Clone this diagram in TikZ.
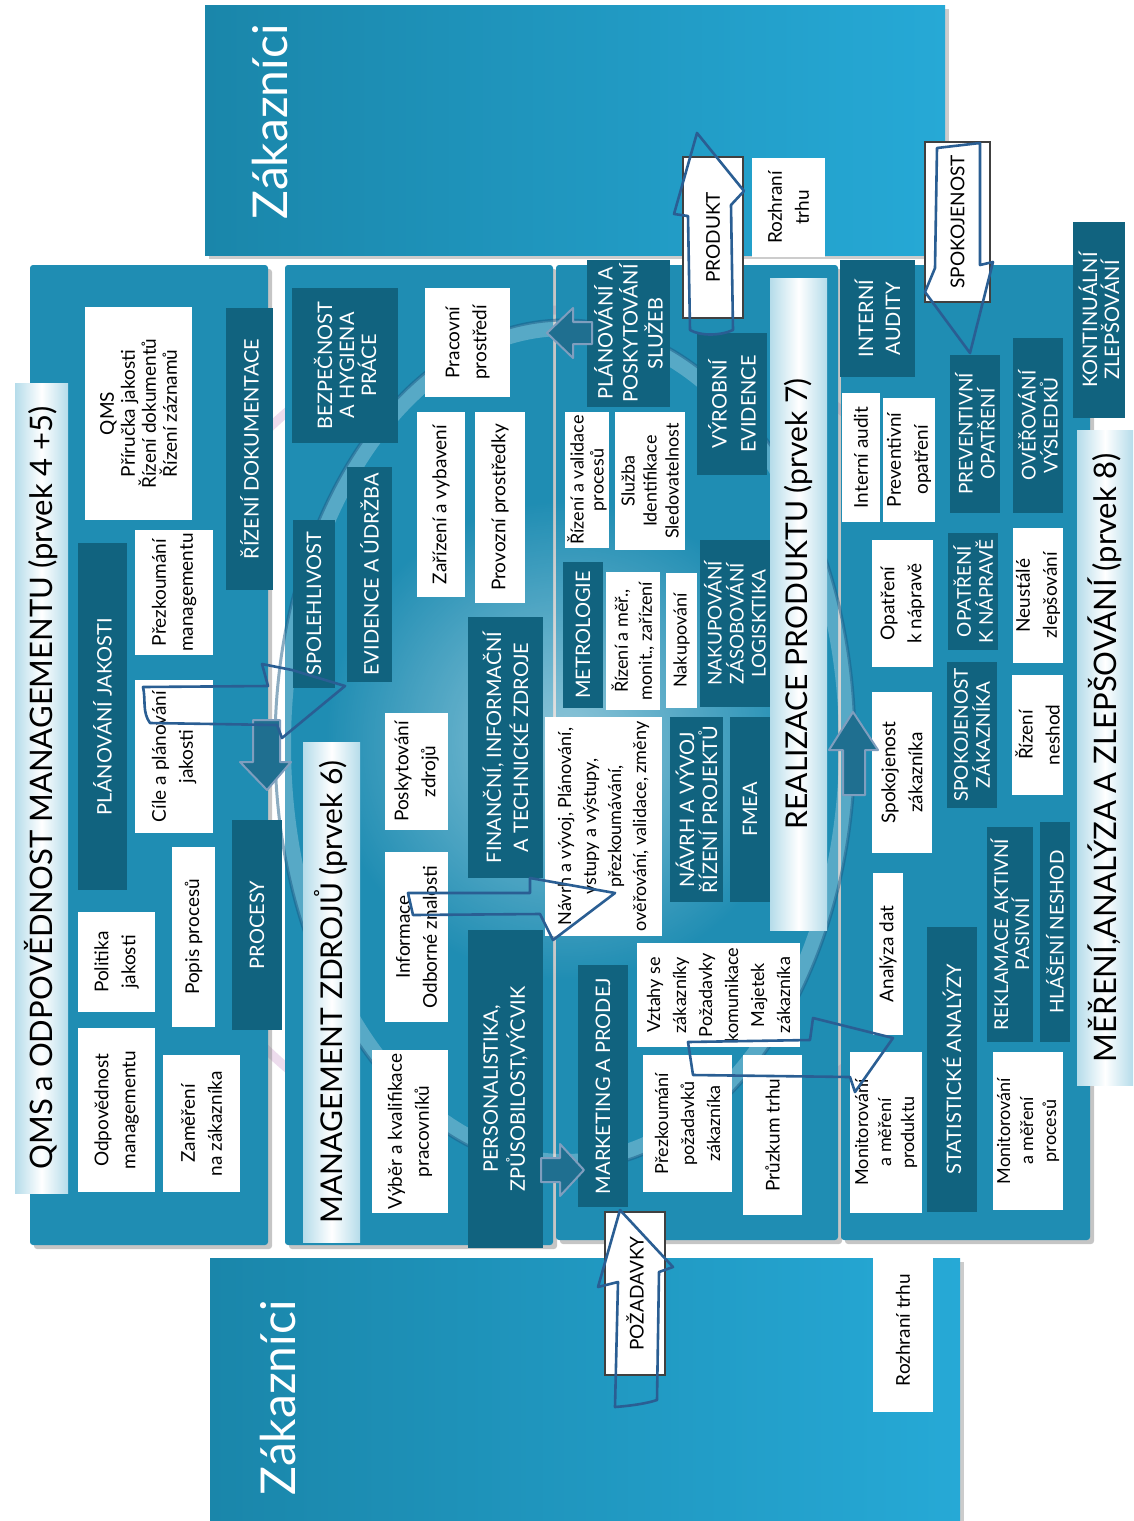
\documentclass[tikz,border=0pt]{standalone}
\usepackage{fontspec}
\setmainfont{Lato}
\usetikzlibrary{shadows,fadings}
\definecolor{pan}{HTML}{1F8DB3}
\definecolor{dk}{HTML}{11637F}
\definecolor{zak}{HTML}{1A86AA}
\definecolor{zakl}{HTML}{26A9D6}
\definecolor{handc}{HTML}{2A5E93}
\definecolor{tb}{HTML}{B5DCEA}
\definecolor{arr}{HTML}{1F6F90}
\definecolor{ringc}{HTML}{1B5A85}
\tikzfading[name=myglow, inner color=transparent!0, outer color=transparent!100]
\newcommand\bx[7]{\node[#1, minimum width={(#6-#4)*1pt}, minimum height={(#5-#3)*1pt}] (#2) at ({(#3+#5)/2},{(#4+#6)/2}) {#7};}
\begin{document}
\begin{tikzpicture}[x=1pt,y=-1pt,
  wbox/.style={fill=white, text=black, rotate=90, align=center, inner sep=1pt, font=\fontsize{19}{27}\selectfont},
  dbox/.style={fill=dk, text=white, rotate=90, align=center, inner sep=1pt, font=\fontsize{20}{23}\selectfont},
  tbar/.style={left color=tb, right color=tb, middle color=white, rotate=90, inner sep=1pt, font=\fontsize{31}{36}\selectfont},
  panel/.style={fill=pan, rounded corners=3pt, drop shadow={shadow xshift=4pt, shadow yshift=-4pt, opacity=0.45}},
  abox/.style={wbox, draw=black!75, line width=1.2pt},
  handarrow/.style={draw=handc, line width=2.6pt, line join=round},
  farrow/.style={fill=arr, draw=handc!60!white, line width=2pt, line join=round}
]
\useasboundingbox (0,0) rectangle (1133,1521);
\fill[white] (0,0) rectangle (1133,1521);
% outer lavender ring (visible in the gaps)
\draw[white!70!violet, line width=9pt, opacity=0.45] (565,740) circle (430);
% customer panels
\path[left color=zak, right color=zakl, drop shadow={shadow xshift=4pt, shadow yshift=-4pt, opacity=0.4}] (205,5) rectangle (945,255);
\path[left color=zak, right color=zakl, drop shadow={shadow xshift=4pt, shadow yshift=-4pt, opacity=0.4}] (210,1258) rectangle (960,1521);
\node[rotate=90, text=white, font=\fontsize{48}{56}\selectfont] (zak1) at (270,122) {Zákazníci};
\node[rotate=90, text=white, font=\fontsize{48}{56}\selectfont] (zak2) at (278,1398) {Zákazníci};
% main panels
\path[panel] (30,265) rectangle (268,1245);
\path[panel] (285,265) rectangle (553,1245);
\path[panel] (556,265) rectangle (838,1240);
\path[panel] (841,265) rectangle (1090,1240);
% glow and inner ring
\fill[white, opacity=0.5, path fading=myglow] (565,740) circle (240);
\draw[white, line width=16pt, opacity=0.25] (565,745) ellipse [x radius=282, y radius=417];
\draw[ringc, line width=3pt, opacity=0.5] (565,745) ellipse [x radius=290, y radius=425];
% ---- QMS
\bx{tbar}{t1}{15}{383}{68}{1193}{QMS a ODPOVĚDNOST MANAGEMENTU (prvek 4 +5)}
\bx{wbox,font=\fontsize{19}{21}\selectfont}{qms}{85}{307}{192}{520}{QMS\\Příručka jakosti\\Řízení dokumentů\\Řízení záznamů}
\bx{dbox}{rdok}{226}{308}{273}{590}{ŘÍZENÍ DOKUMENTACE}
\bx{dbox}{planj}{78}{543}{127}{890}{PLÁNOVÁNÍ JAKOSTI}
\bx{wbox}{prezm}{135}{530}{213}{655}{Přezkoumání\\managementu}
\bx{wbox}{cile}{135}{680}{213}{833}{Cíle a plánování\\jakosti}
\bx{wbox}{polit}{78}{912}{155}{1012}{Politika\\jakosti}
\bx{wbox}{popis}{172}{847}{215}{1027}{Popis procesů}
\bx{wbox}{odpov}{78}{1028}{155}{1192}{Odpovědnost\\managementu}
\bx{wbox}{zamer}{163}{1055}{240}{1192}{Zaměření\\na zákazníka}
\bx{dbox}{procesy}{232}{820}{282}{1030}{PROCESY}
% ---- MZ
\bx{tbar,font=\fontsize{30}{36}\selectfont}{t2}{303}{742}{360}{1242}{MANAGEMENT ZDROJŮ (prvek 6)}
\bx{dbox}{spol}{293}{520}{335}{688}{SPOLEHLIVOST}
\bx{dbox}{evid}{347}{467}{392}{682}{EVIDENCE A ÚDRŽBA}
\bx{dbox,font=\fontsize{20}{22}\selectfont}{bezp}{292}{288}{398}{443}{BEZPEČNOST\\A HYGIENA\\PRÁCE}
\bx{wbox}{pracp}{425}{288}{510}{397}{Pracovní\\prostředí}
\bx{wbox}{zariz}{417}{412}{465}{597}{Zařízení a vybavení}
\bx{wbox}{provoz}{475}{412}{525}{603}{Provozní prostředky}
\bx{dbox,font=\fontsize{20}{27}\selectfont}{financ}{468}{617}{543}{878}{FINANČNÍ, INFORMAČNÍ\\A TECHNICKÉ ZDROJE}
\bx{wbox}{poskyt}{385}{713}{448}{830}{Poskytování\\zdrojů}
\bx{wbox}{inform}{385}{852}{448}{1022}{Informace\\Odborné znalosti}
\bx{wbox}{vyber}{372}{1050}{448}{1213}{Výběr a kvalifikace\\pracovníků}
\bx{dbox,font=\fontsize{20}{27}\selectfont}{person}{468}{930}{543}{1248}{PERSONALISTIKA,\\ZPŮSOBILOST,VÝCVIK}
% ---- RP
\bx{tbar,font=\fontsize{30}{36}\selectfont}{t3}{770}{278}{827}{930}{REALIZACE PRODUKTU (prvek 7)}
\bx{dbox}{mark}{578}{965}{628}{1207}{MARKETING A PRODEJ}
\bx{wbox,font=\fontsize{18}{25}\selectfont}{navrh}{545}{717}{662}{936}{Návrh a vývoj, Plánování,\\vstupy a výstupy,\\přezkoumávání,\\ověřování, validace, změny}
\bx{dbox}{metro}{563}{562}{603}{708}{METROLOGIE}
\bx{wbox,font=\fontsize{18}{24}\selectfont}{rizm}{606}{572}{660}{710}{Řízení a měř.,\\monit., zařízení}
\bx{wbox,font=\fontsize{18}{22}\selectfont}{nakup}{666}{573}{697}{708}{Nakupování}
\bx{dbox,font=\fontsize{19}{22}\selectfont}{nakz}{700}{540}{770}{707}{NAKUPOVÁNÍ\\ZÁSOBOVÁNÍ\\LOGISKTIKA}
\bx{dbox}{navrhrp}{670}{717}{723}{902}{NÁVRH A VÝVOJ\\ŘÍZENÍ PROJEKTŮ}
\bx{dbox}{fmea}{730}{717}{770}{902}{FMEA}
\bx{wbox,font=\fontsize{18}{26}\selectfont}{vztahy}{637}{943}{800}{1047}{Vztahy se\\zákazníky\\Požadavky\\komunikace\\Majetek\\zákazníka}
\bx{wbox,font=\fontsize{18}{26}\selectfont}{prezp}{643}{1055}{732}{1192}{Přezkoumání\\požadavků\\zákazníka}
\bx{wbox}{pruz}{743}{1055}{802}{1215}{Průzkum trhu}
\bx{wbox,font=\fontsize{18}{20}\selectfont}{rizv}{565}{412}{609}{548}{Řízení a validace\\procesů}
\bx{wbox,font=\fontsize{18}{22}\selectfont}{sluzba}{615}{412}{685}{550}{Služba\\Identifikace\\Sledovatelnost}
\bx{dbox,font=\fontsize{20}{25}\selectfont}{planps}{587}{260}{670}{407}{PLÁNOVÁNÍ A\\POSKYTOVÁNÍ\\SLUŽEB}
\bx{dbox,font=\fontsize{20}{29}\selectfont}{vyrob}{697}{333}{767}{475}{VÝROBNÍ\\EVIDENCE}
\bx{abox}{produkt}{683}{157}{743}{318}{PRODUKT}
\bx{wbox}{rozh1}{752}{158}{825}{257}{Rozhraní\\trhu}
\bx{abox}{pozad}{605}{1212}{665}{1375}{POŽADAVKY}
% ---- MAZ
\bx{tbar}{t4}{1077}{430}{1133}{1085}{MĚŘENÍ,ANALÝZA A ZLEPŠOVÁNÍ (prvek 8)}
\bx{dbox,font=\fontsize{20}{22}\selectfont}{kont}{1073}{222}{1125}{418}{KONTINUÁLNÍ\\ZLEPŠOVÁNÍ}
\bx{dbox,font=\fontsize{20}{27}\selectfont}{intaud}{840}{260}{915}{377}{INTERNÍ\\AUDITY}
\bx{abox}{spokoj}{925}{142}{990}{302}{SPOKOJENOST}
\bx{wbox}{inta}{842}{393}{880}{522}{Interní audit}
\bx{wbox}{prev}{883}{398}{935}{522}{Preventivní\\opatření}
\bx{dbox,font=\fontsize{19}{22}\selectfont}{PREV}{950}{355}{1000}{513}{PREVENTIVNÍ\\OPATŘENÍ}
\bx{dbox,font=\fontsize{19}{22}\selectfont}{over}{1013}{338}{1063}{513}{OVĚŘOVÁNÍ\\VÝSLEDKŮ}
\bx{wbox}{opn}{872}{540}{933}{667}{Opatření\\k nápravě}
\bx{dbox,font=\fontsize{19}{22}\selectfont}{OPN}{948}{533}{998}{650}{OPATŘENÍ\\K NÁPRAVĚ}
\bx{wbox}{neust}{1013}{528}{1063}{663}{Neustálé\\zlepšování}
\bx{wbox}{spz}{872}{692}{932}{853}{Spokojenost\\zákazníka}
\bx{dbox,font=\fontsize{19}{22}\selectfont}{SPZ}{947}{662}{997}{808}{SPOKOJENOST\\ZÁKAZNÍKA}
\bx{wbox}{rizn}{1012}{675}{1063}{795}{Řízení\\neshod}
\bx{wbox}{anal}{873}{873}{903}{1035}{Analýza dat}
\bx{dbox}{stat}{927}{927}{977}{1212}{STATISTICKÉ ANALÝZY}
\bx{dbox,font=\fontsize{19}{21}\selectfont}{rekl}{987}{827}{1033}{1042}{REKLAMACE AKTIVNÍ\\PASIVNÍ}
\bx{dbox,font=\fontsize{19}{21}\selectfont}{hlas}{1040}{822}{1070}{1042}{HLÁŠENÍ NESHOD}
\bx{wbox,font=\fontsize{18}{23}\selectfont}{monprod}{850}{1052}{922}{1213}{Monitorování\\a měření\\produktu}
\bx{wbox,font=\fontsize{18}{23}\selectfont}{monproc}{993}{1052}{1063}{1210}{Monitorování\\a měření\\procesů}
\bx{wbox}{rozh2}{873}{1248}{933}{1412}{Rozhraní trhu}
% filled flow arrows on the ring
\draw[farrow] (253,720) -- (280,720) -- (280,762) -- (291,762) -- (267,790) -- (240,762) -- (253,762) -- cycle;
\draw[farrow] (541,1158) -- (560,1158) -- (560,1144) -- (584,1170) -- (560,1196) -- (560,1182) -- (541,1182) -- cycle;
\draw[farrow] (592,322) -- (573,322) -- (573,308) -- (547,333) -- (573,358) -- (573,344) -- (592,344) -- cycle;
\draw[farrow] (843,795) -- (865,795) -- (865,750) -- (878,750) -- (853,712) -- (829,750) -- (843,750) -- cycle;
% hand-drawn outline arrows
\draw[handarrow] (690,330) -- (688,216) -- (674,214) -- (697,133) -- (744,191) -- (731,205) -- (733,330) .. controls (720,336) and (700,336) .. (690,330) -- cycle;
\draw[handarrow] (615,1407) -- (618,1282) -- (598,1287) -- (620,1210) -- (673,1267) -- (659,1272) -- (657,1400) .. controls (645,1404) and (628,1406) .. (615,1407) -- cycle;
\draw[handarrow] (937,148) -- (935,268) -- (925,292) -- (970,353) -- (993,262) -- (980,265) -- (980,143) -- cycle;
\draw[handarrow] (143,687) .. controls (146,700) and (142,712) .. (150,723) -- (277,725) -- (282,738) -- (345,686) -- (292,670) -- (262,664) -- (268,686) -- cycle;
\draw[handarrow] (408,893) -- (413,915) -- (540,914) -- (553,940) -- (615,893) -- (530,878) -- (530,893) -- cycle;
\draw[handarrow] (688,1042) -- (810,1040) -- (813,1018) -- (893,1038) -- (855,1092) -- (850,1077) -- (693,1075) -- cycle;
\end{tikzpicture}
\end{document}
